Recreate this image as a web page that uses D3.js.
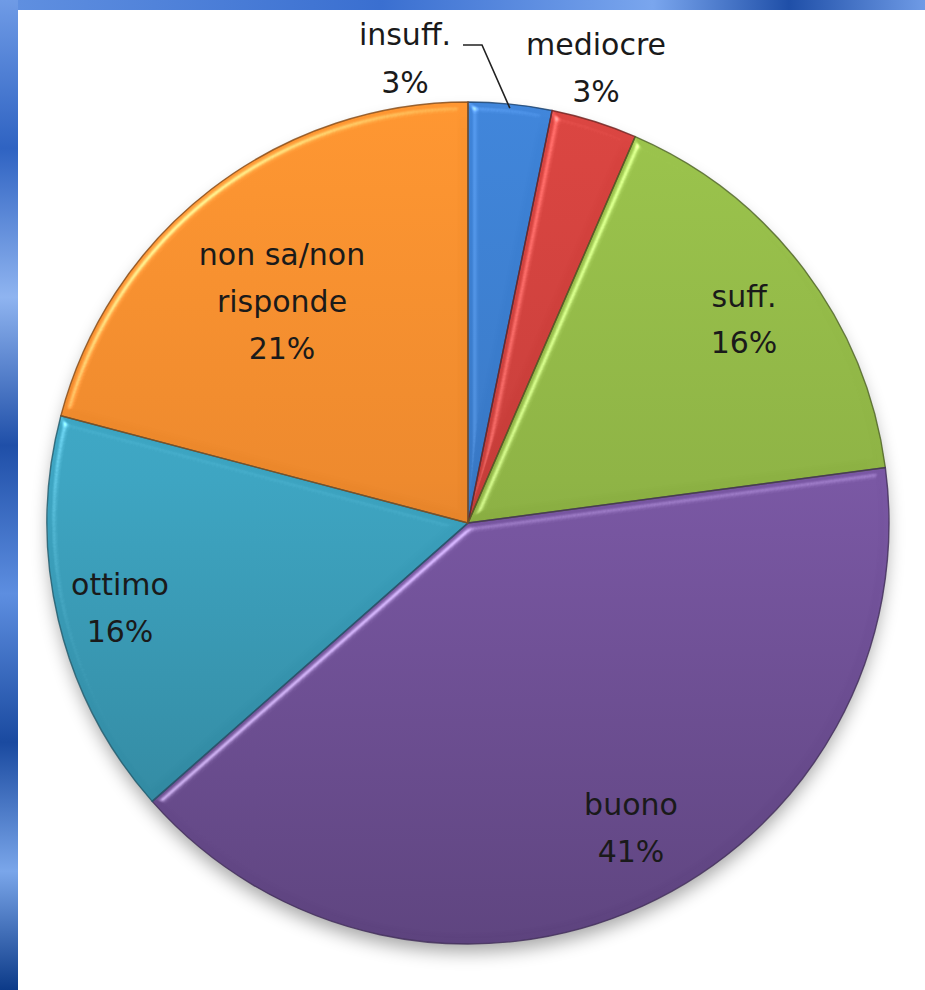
<!DOCTYPE html>
<html>
<head>
<meta charset="utf-8">
<script src="https://cdn.jsdelivr.net/npm/d3@7"></script>
<style>
  html, body { margin: 0; padding: 0; background: #fff; }
  svg { display: block; }
</style>
</head>
<body>
<svg id="chart" width="925" height="990"></svg>
<script>
// ---- data ----
const categories = ["insuff.", "mediocre", "suff.", "buono", "ottimo", "non sa/non risponde"];
const values = [3.2, 3.3, 16.4, 40.6, 15.6, 20.9];
const labelLines = [["insuff."], ["mediocre"], ["suff."], ["buono"], ["ottimo"], ["non sa/non", "risponde"]];
const colors = ["#3b7bc8", "#c9403c", "#8fb446", "#7a58a4", "#3ea5c2", "#ee8a2e"];

// ---- layout ----
const W = 925, H = 990;
const cx = 468, cy = 523, R = 421;
const svg = d3.select("#chart");
const defs = svg.append("defs");

// slide background
const bg = defs.append("linearGradient").attr("id", "bgGrad").attr("x1", 0).attr("y1", 0).attr("x2", 0).attr("y2", 1);
[["0%", "#6f9be6"], ["15%", "#2f63c2"], ["30%", "#8fb4f0"], ["45%", "#1f4fa8"], ["60%", "#5d8ee0"], ["75%", "#1a4aa0"], ["88%", "#7aa6ea"], ["100%", "#0c3a88"]]
  .forEach(([o, c]) => bg.append("stop").attr("offset", o).attr("stop-color", c));
svg.append("rect").attr("width", W).attr("height", H).attr("fill", "url(#bgGrad)");
const bgTop = defs.append("linearGradient").attr("id", "bgTop").attr("x1", 0).attr("y1", 0).attr("x2", 1).attr("y2", 0);
[["0%", "#5f8fe0"], ["40%", "#3a6fd0"], ["70%", "#7aa6ee"], ["85%", "#1f4fa8"], ["100%", "#6f9be6"]]
  .forEach(([o, c]) => bgTop.append("stop").attr("offset", o).attr("stop-color", c));
svg.append("rect").attr("x", 18).attr("width", W - 18).attr("height", 10).attr("fill", "url(#bgTop)");
svg.append("rect").attr("x", 18).attr("y", 10).attr("width", W - 18).attr("height", H - 10).attr("fill", "#ffffff");

// filters
const shadow = defs.append("filter").attr("id", "shadow").attr("x", "-20%").attr("y", "-20%").attr("width", "140%").attr("height", "140%");
shadow.append("feGaussianBlur").attr("stdDeviation", 9);

const bevel = defs.append("filter").attr("id", "bevel").attr("x", "-10%").attr("y", "-10%").attr("width", "120%").attr("height", "120%")
  .attr("color-interpolation-filters", "sRGB");
bevel.append("feGaussianBlur").attr("in", "SourceAlpha").attr("stdDeviation", 4).attr("result", "blur");
const spec = bevel.append("feSpecularLighting").attr("in", "blur").attr("surfaceScale", 5)
  .attr("specularConstant", 0.9).attr("specularExponent", 35).attr("lighting-color", "#ffffff").attr("result", "spec");
spec.append("feDistantLight").attr("azimuth", 225).attr("elevation", 45);
bevel.append("feComposite").attr("in", "spec").attr("in2", "SourceAlpha").attr("operator", "in").attr("result", "specIn");
bevel.append("feComposite").attr("in", "SourceGraphic").attr("in2", "specIn").attr("operator", "arithmetic")
  .attr("k1", 0).attr("k2", 1).attr("k3", 0.45).attr("k4", -0.03);

// gradients per slice (coordinates in the pie group's space, centred on 0,0)
colors.forEach((c, i) => {
  const g = defs.append("linearGradient").attr("id", "sg" + i).attr("gradientUnits", "userSpaceOnUse")
    .attr("x1", 0).attr("y1", -R).attr("x2", 0).attr("y2", R);
  g.append("stop").attr("offset", "0%").attr("stop-color", d3.color(c).brighter(0.25));
  g.append("stop").attr("offset", "45%").attr("stop-color", c);
  g.append("stop").attr("offset", "100%").attr("stop-color", d3.color(c).darker(0.7));
});

// pie
const pie = d3.pie().sort(null).value(d => d);
const arcs = pie(values);
const arc = d3.arc().innerRadius(0).outerRadius(R);

const g = svg.append("g").attr("transform", `translate(${cx},${cy})`);
g.append("circle").attr("cx", 0).attr("cy", 10).attr("r", R - 2).attr("fill", "#000").attr("opacity", 0.35).attr("filter", "url(#shadow)");

g.selectAll("path.slice").data(arcs).join("path")
  .attr("class", "slice")
  .attr("d", arc)
  .attr("fill", (d, i) => `url(#sg${i})`)
  .attr("filter", "url(#bevel)");
g.selectAll("path.edge").data(arcs).join("path")
  .attr("class", "edge")
  .attr("d", arc)
  .attr("fill", "none")
  .attr("stroke", (d, i) => d3.color(colors[i]).darker(1.6))
  .attr("stroke-opacity", 0.85)
  .attr("stroke-width", 1.4);

// labels (positions relative to page)
const labelPos = [
  { x: 405, y: 45, dy2: 48 },
  { x: 596, y: 55, dy2: 47 },
  { x: 744, y: 307, dy2: 46 },
  { x: 631, y: 815, dy2: 47 },
  { x: 120, y: 595, dy2: 47 },
  { x: 282, y: 265, dy2: 47 }
];
const fmt = d => Math.round(d) + "%";
const lab = svg.append("g").attr("font-family", "'DejaVu Sans', Verdana, sans-serif")
  .attr("font-size", 30).attr("fill", "#1a1a1a").attr("text-anchor", "middle");
arcs.forEach((a, i) => {
  const p = labelPos[i];
  const lines = labelLines[i].concat([fmt(a.data)]);
  const t = lab.append("text").attr("x", p.x).attr("y", p.y);
  lines.forEach((ln, k) => {
    t.append("tspan").attr("x", p.x).attr("y", p.y + k * p.dy2).text(ln);
  });
});

// leader line for insuff.
const mid0 = (arcs[0].startAngle + arcs[0].endAngle) / 2;
const ex = cx + Math.sin(mid0) * (R - 4), ey = cy - Math.cos(mid0) * (R - 4);
svg.append("path")
  .attr("d", d3.line()([[463, 45], [482, 45], [ex, ey]]))
  .attr("fill", "none").attr("stroke", "#222").attr("stroke-width", 1.6);
</script>
</body>
</html>
